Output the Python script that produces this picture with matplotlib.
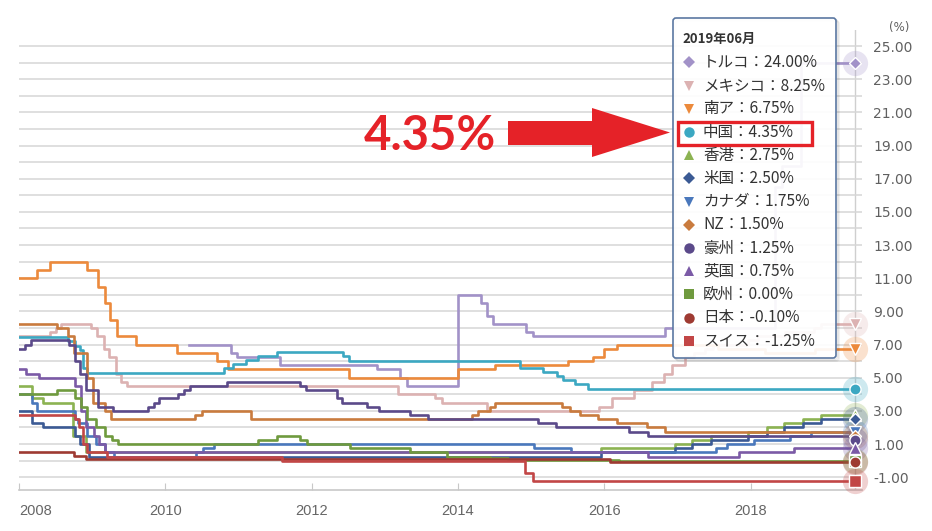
import numpy as np
import matplotlib.pyplot as plt
from matplotlib.patches import FancyBboxPatch, Rectangle, Polygon

plt.rcParams['font.family'] = ['DejaVu Sans']
plt.rcParams['axes.unicode_minus'] = False

# policy rates (%), step changes: start year of each level
END = 2019.42  # 2019/06

turkey_t = [2010.32, 2010.9, 2010.98, 2011.56, 2012.89, 2013.2, 2013.3, 2014.0, 2014.32, 2014.4, 2014.48, 2014.93, 2015.03, 2016.83, 2018.33, 2018.42, 2018.68]
turkey_v = [7.0, 6.5, 6.25, 5.75, 5.5, 5.0, 4.5, 10.0, 9.5, 8.75, 8.25, 7.75, 7.5, 8.0, 16.5, 17.75, 24.0]

mexico_t = [2008.0, 2008.42, 2008.5, 2008.58, 2008.98, 2009.07, 2009.16, 2009.23, 2009.32, 2009.39, 2009.47, 2013.18, 2013.68, 2013.78, 2014.4, 2015.92, 2016.1, 2016.4, 2016.65, 2016.82, 2016.93, 2017.1, 2017.22, 2017.37, 2017.48, 2017.96, 2018.1, 2018.47, 2018.87, 2018.96]
mexico_v = [7.5, 7.75, 8.0, 8.25, 8.0, 7.5, 6.75, 6.25, 5.25, 4.75, 4.5, 4.0, 3.75, 3.5, 3.0, 3.25, 3.75, 4.25, 4.75, 5.25, 5.75, 6.25, 6.5, 6.75, 7.0, 7.25, 7.5, 7.75, 8.0, 8.25]

safrica_t = [2008.0, 2008.25, 2008.42, 2008.93, 2009.08, 2009.17, 2009.25, 2009.34, 2009.6, 2010.16, 2010.7, 2010.86, 2012.51, 2014.0, 2014.5, 2015.5, 2015.84, 2016.0, 2016.17, 2017.55, 2018.2, 2018.88]
safrica_v = [11.0, 11.5, 12.0, 11.5, 10.5, 9.5, 8.5, 7.5, 7.0, 6.5, 6.0, 5.5, 5.0, 5.5, 5.75, 6.0, 6.25, 6.75, 7.0, 6.75, 6.5, 6.75]

china_t = [2008.0, 2008.67, 2008.76, 2008.83, 2008.88, 2008.93, 2010.8, 2010.93, 2011.1, 2011.27, 2011.52, 2012.43, 2012.51, 2014.85, 2015.16, 2015.35, 2015.43, 2015.6, 2015.77]
china_v = [7.47, 7.2, 6.93, 6.66, 5.58, 5.31, 5.56, 5.81, 6.06, 6.31, 6.56, 6.31, 6.0, 5.6, 5.35, 5.1, 4.85, 4.6, 4.35]

hongkong_t = [2008.0, 2008.18, 2008.33, 2008.74, 2008.92, 2015.96, 2016.96, 2017.2, 2017.46, 2017.96, 2018.22, 2018.46, 2018.72, 2018.96]
hongkong_v = [4.5, 3.75, 3.5, 1.5, 0.5, 0.75, 1.0, 1.25, 1.5, 1.75, 2.0, 2.25, 2.5, 2.75]

usa_t = [2008.0, 2008.18, 2008.33, 2008.77, 2008.83, 2008.96, 2015.96, 2016.96, 2017.2, 2017.46, 2017.96, 2018.22, 2018.46, 2018.72, 2018.96]
usa_v = [3.0, 2.25, 2.0, 1.5, 1.0, 0.25, 0.5, 0.75, 1.0, 1.25, 1.5, 1.75, 2.0, 2.25, 2.5]

canada_t = [2008.0, 2008.18, 2008.25, 2008.77, 2008.8, 2008.93, 2009.05, 2009.17, 2009.3, 2010.42, 2010.52, 2010.67, 2015.04, 2015.54, 2017.53, 2017.68, 2018.05, 2018.53, 2018.82]
canada_v = [4.0, 3.5, 3.0, 2.5, 2.25, 1.5, 1.0, 0.5, 0.25, 0.5, 0.75, 1.0, 0.75, 0.5, 0.75, 1.0, 1.25, 1.5, 1.75]

nz_t = [2008.0, 2008.52, 2008.67, 2008.75, 2008.93, 2009.01, 2009.17, 2009.26, 2010.4, 2010.5, 2011.17, 2014.19, 2014.27, 2014.43, 2014.5, 2015.42, 2015.53, 2015.66, 2015.91, 2016.17, 2016.58, 2016.83, 2019.36]
nz_v = [8.25, 8.0, 7.5, 6.5, 5.0, 3.5, 3.0, 2.5, 2.75, 3.0, 2.5, 2.75, 3.0, 3.25, 3.5, 3.25, 3.0, 2.75, 2.5, 2.25, 2.0, 1.75, 1.5]

australia_t = [2008.0, 2008.08, 2008.17, 2008.68, 2008.76, 2008.84, 2008.92, 2009.08, 2009.28, 2009.76, 2009.84, 2009.92, 2010.17, 2010.26, 2010.34, 2010.84, 2011.84, 2011.92, 2012.34, 2012.42, 2012.76, 2012.92, 2013.34, 2013.59, 2015.09, 2015.34, 2016.34, 2016.59, 2019.42]
australia_v = [6.75, 7.0, 7.25, 7.0, 6.0, 5.25, 4.25, 3.25, 3.0, 3.25, 3.5, 3.75, 4.0, 4.25, 4.5, 4.75, 4.5, 4.25, 3.75, 3.5, 3.25, 3.0, 2.75, 2.5, 2.25, 2.0, 1.75, 1.5, 1.25]

uk_t = [2008.0, 2008.1, 2008.28, 2008.77, 2008.85, 2008.92, 2009.02, 2009.1, 2009.18, 2016.6, 2017.84, 2018.59]
uk_v = [5.5, 5.25, 5.0, 4.5, 3.0, 2.0, 1.5, 1.0, 0.5, 0.25, 0.5, 0.75]

europe_t = [2008.0, 2008.52, 2008.77, 2008.85, 2008.93, 2009.05, 2009.18, 2009.27, 2009.35, 2011.27, 2011.52, 2011.84, 2011.93, 2012.52, 2013.35, 2013.85, 2014.43, 2014.68, 2016.2]
europe_v = [4.0, 4.25, 3.75, 3.25, 2.5, 2.0, 1.5, 1.25, 1.0, 1.25, 1.5, 1.25, 1.0, 0.75, 0.5, 0.25, 0.15, 0.05, 0.0]

japan_t = [2008.0, 2008.75, 2008.92, 2016.08]
japan_v = [0.5, 0.3, 0.1, -0.1]

swiss_t = [2008.0, 2008.77, 2008.82, 2008.88, 2008.93, 2009.2, 2011.6, 2014.92, 2015.02]
swiss_v = [2.75, 2.5, 2.0, 1.0, 0.5, 0.25, 0.0, -0.75, -1.25]

names = ['トルコ', 'メキシコ', '南ア', '中国', '香港', '米国', 'カナダ', 'NZ', '豪州', '英国', '欧州', '日本', 'スイス']
series_t = [turkey_t, mexico_t, safrica_t, china_t, hongkong_t, usa_t, canada_t, nz_t, australia_t, uk_t, europe_t, japan_t, swiss_t]
series_v = [turkey_v, mexico_v, safrica_v, china_v, hongkong_v, usa_v, canada_v, nz_v, australia_v, uk_v, europe_v, japan_v, swiss_v]

colors = ['#a292c8', '#dcb2b2', '#ec8a3c', '#3ca8c2', '#8cb352', '#3b5a94', '#4a78bc',
          '#c97b3e', '#5b4a8a', '#7b5aa6', '#6f9a3e', '#9e3a32', '#c24646']
markers = ['D', 'v', 'v', 'o', '^', 'D', 'v', 'D', 'o', '^', 's', 'o', 's']

W, H = 932, 531
fig = plt.figure(figsize=(W / 100, H / 100), dpi=100)
ax = fig.add_axes([19 / W, (H - 490) / H, 843 / W, 460.5 / H])

for t, v, c in zip(series_t, series_v, colors):
    ax.step(t + [END], v + [v[-1]], where='post', color=c, lw=1.9, zorder=2)

ax.axvline(END, color='#cfcfcf', lw=1, zorder=1)

for t, v, c, m in zip(series_t, series_v, colors, markers):
    ax.scatter([END], [v[-1]], s=330, color=c, alpha=0.25, lw=0, zorder=3, clip_on=False)
    ms = 6 if m == 'D' else 8
    ax.plot([END], [v[-1]], marker=m, ms=ms, color=c, mec='white', mew=1, zorder=4, clip_on=False)

ax.set_xlim(2008.0, 2019.52)
ax.set_ylim(-1.77, 26)

yt = np.arange(-1, 26, 2)
ax.set_yticks(yt)
ax.set_yticklabels([f'{v:.2f}' for v in yt])
ax.set_yticks(np.arange(0, 27, 2), minor=True)
ax.yaxis.tick_right()
ax.tick_params(axis='y', which='both', length=0, pad=8, labelsize=10, labelcolor='#606060')
ax.grid(True, axis='y', which='both', color='#d6d6d6', lw=1.1, zorder=0)

xt = np.arange(2008, 2019, 2)
ax.set_xticks(xt)
ax.set_xticklabels([str(y) for y in xt], family=['Liberation Sans', 'DejaVu Sans'])
ax.tick_params(axis='x', direction='in', length=5, color='#c8c8c8', pad=10, labelsize=10.5, labelcolor='#666666')
ax.get_xticklabels()[0].set_ha('left')

for s in ['top', 'left', 'right']:
    ax.spines[s].set_visible(False)
ax.spines['bottom'].set_color('#c8c8c8')
ax.spines['bottom'].set_linewidth(1.2)
ax.set_facecolor('none')

fig.text(899 / W, 1 - 27 / H, '(%)', ha='center', va='center', fontsize=8.5, color='#606060')

# overlay in pixel coordinates for tooltip and annotation
ov = fig.add_axes([0, 0, 1, 1])
ov.set_xlim(0, W)
ov.set_ylim(H, 0)
ov.axis('off')
ov.patch.set_alpha(0)

for k in range(3):
    ov.add_patch(FancyBboxPatch((673 + 1 + k, 18 + 1 + k), 163, 340, boxstyle='round,pad=0,rounding_size=3',
                                fc='none', ec=(0, 0, 0, 0.06), lw=1.2))
ov.add_patch(FancyBboxPatch((673, 18), 163, 340, boxstyle='round,pad=0,rounding_size=3',
                            fc=(1, 1, 1, 0.93), ec='#5b78a2', lw=1.2))

jp = ['Noto Sans CJK JP', 'DejaVu Sans']
ov.text(682, 38.5, '2019年06月', family=jp, fontsize=9.5, fontweight='bold', color='#333333', va='center')
for i, (n, v, c, m) in enumerate(zip(names, series_v, colors, markers)):
    y = 62.4 + i * 23.2
    ov.plot(689, y, marker=m, ms=6 if m == 'D' else 7.5, color=c, mew=0)
    ov.text(703, y, f'{n}：{v[-1]:.2f}%', family=jp, fontsize=11.2, color='#333333', va='center')

red = '#e52228'
ov.add_patch(Rectangle((677.5, 122), 134, 23, fill=False, ec=red, lw=2.4))

ov.text(430, 150, '4.35%', family=['Lato', 'DejaVu Sans'], fontweight='bold', fontsize=34,
        color=red, ha='center', va='baseline')
ov.add_patch(Polygon([(508, 121), (592, 121), (592, 108), (670, 132.5), (592, 157), (592, 145), (508, 145)],
                     closed=True, fc=red, ec='none'))

fig.savefig('out.png', dpi=100)
